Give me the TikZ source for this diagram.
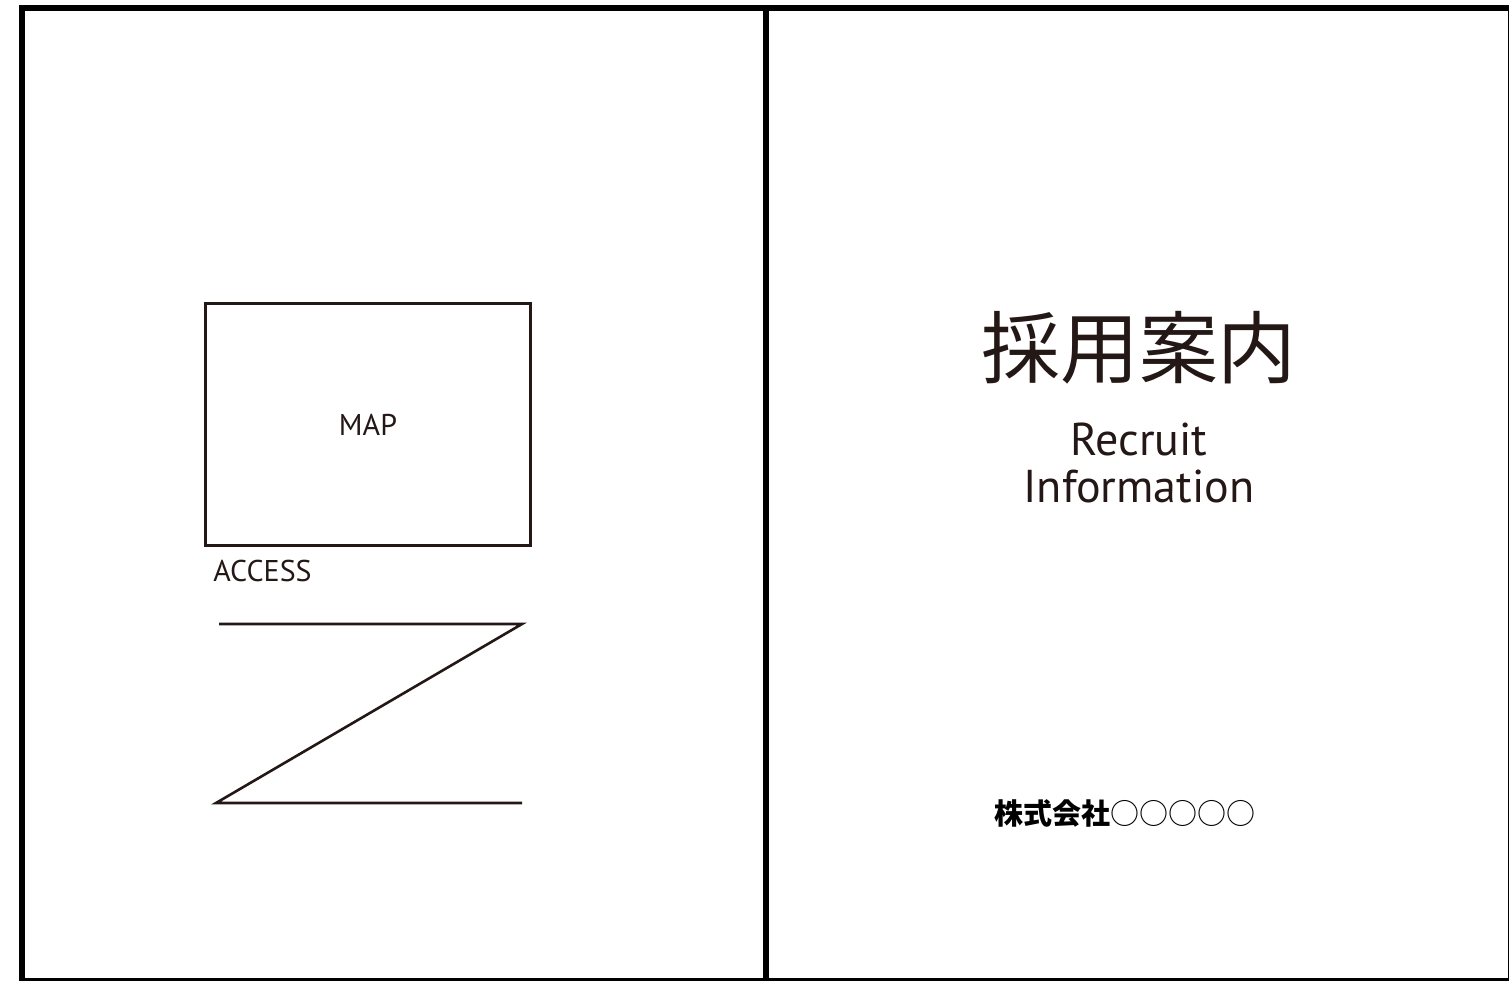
\documentclass[tikz,border=0pt]{standalone}
\usepackage{fontspec}
\setmainfont{PT Sans}
\newfontfamily\jpfont{Noto Sans CJK JP}
\usepackage{tikz}

\definecolor{ink}{RGB}{35,24,21}

\tikzset{
	frame/.style={draw=black, line width=3pt},
	mapbox/.style={draw=ink, line width=1.7pt, minimum width=162.5pt, minimum height=121pt, inner sep=0pt},
	zline/.style={draw=ink, line width=1.3pt},
	caption/.style={text=ink, inner sep=0pt, font=\fontsize{15}{18}\selectfont},
}

\begin{document}
\begin{tikzpicture}[x=0.5pt,y=-0.5pt]
	\useasboundingbox (0,0) rectangle (1509,980);
	
	% page frame and fold
	\draw[frame] (22,8) rectangle (1511,981);
	\coordinate (foldtop) at (766,8);
	\coordinate (foldbot) at (766,981);
	\draw[frame] (foldtop) -- (foldbot);
	
	% back page
	\node[mapbox, caption] (map) at (368,424.5) {MAP};
	\node[caption, anchor=west] (access) at (213,571) {ACCESS};
	
	\coordinate (z1) at (219,624);
	\coordinate (z2) at (522,624);
	\coordinate (z3) at (216,803);
	\coordinate (z4) at (522,803);
	\draw[zline] (z1) -- (z2) -- (z3) -- (z4);
	
	% cover page
	\node[text=ink, inner sep=0pt, font=\jpfont\fontsize{39.4}{41}\selectfont] (title) at (1139,348) {採用案内};
	\node[text=ink, inner sep=0pt, align=center, font=\fontsize{23}{23.5}\selectfont] (subtitle) at (1139,463) {Recruit\\Information};
	\node[text=black, inner sep=0pt, font=\jpfont\fontsize{14.5}{16}\selectfont] (company) at (1125,813) {\bfseries 株式会社\mdseries ○○○○○};
	
\end{tikzpicture}
\end{document}
